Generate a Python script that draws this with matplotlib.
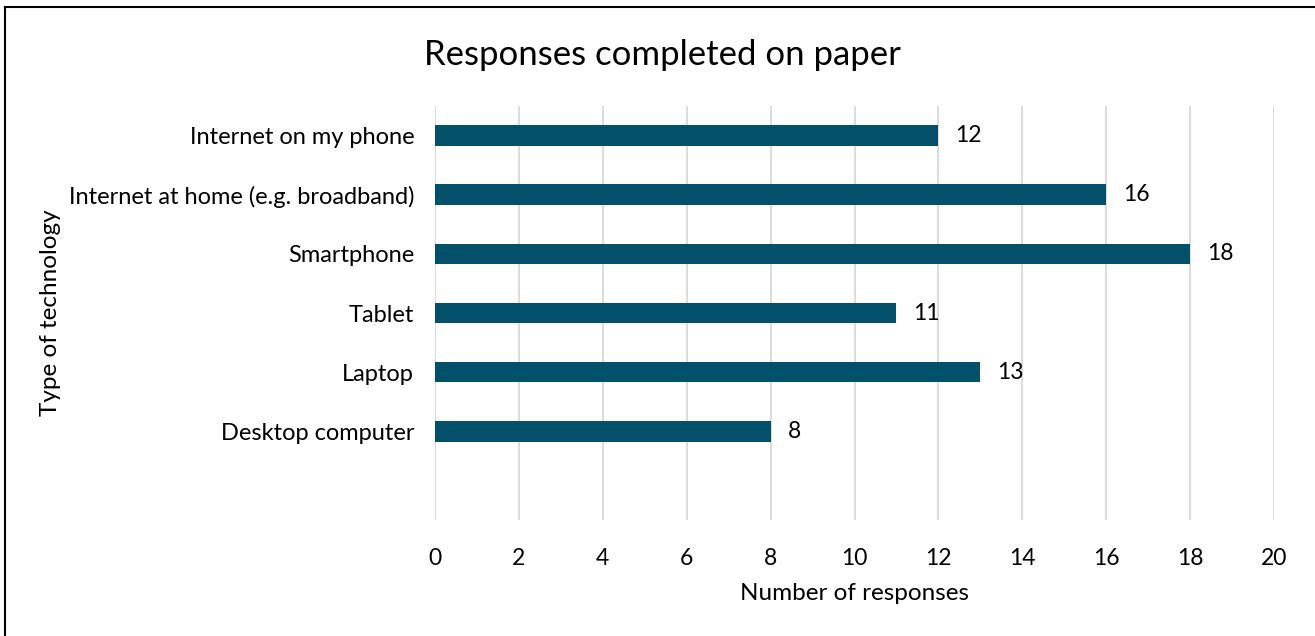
import matplotlib.pyplot as plt
from matplotlib.lines import Line2D

# Data (top to bottom as in chart)
categories = ["Internet on my phone", "Internet at home (e.g. broadband)",
              "Smartphone", "Tablet", "Laptop", "Desktop computer"]
counts = [12, 16, 18, 11, 13, 8]

bar_color = "#03506B"
grid_color = "#D9D9D9"

plt.rcParams["font.family"] = ["Lato", "DejaVu Sans"]

fig = plt.figure(figsize=(13.15, 6.36), dpi=100)
# plot area in pixels: x 435-1274, y 106-520
W, H = 1315, 636
ax = fig.add_axes([435 / W, 1 - 520 / H, (1274 - 435) / W, (520 - 106) / H])

# 7 slots, last one empty (bottom)
n = len(categories)
ypos = list(range(n))
ax.barh(ypos, counts, height=0.35, color=bar_color, zorder=3)
ax.set_ylim(n + 0.5, -0.5)
ax.set_xlim(0, 20)
ax.set_xticks(range(0, 21, 2))
ax.set_yticks(ypos)
ax.set_yticklabels(categories, fontsize=17)
ax.tick_params(axis="x", labelsize=16.5, length=0, pad=20)
ax.tick_params(axis="y", length=0, pad=15)
ax.grid(axis="x", color=grid_color, linewidth=1.3, zorder=0)
for s in ax.spines.values():
    s.set_visible(False)

for y, v in zip(ypos, counts):
    ax.text(v + 0.4, y, str(v), va="center", ha="left", fontsize=16.5)

ax.set_xlabel("Number of responses", fontsize=17.5, labelpad=10)
fig.text(51 / W, 1 - 313 / H, "Type of technology", rotation=90,
         fontsize=17.5, va="center", ha="center")
fig.text(662 / W, 1 - 55 / H, "Responses completed on paper", fontsize=25,
         ha="center", va="center")

# outer border (only left and top visible)
fig.add_artist(Line2D([4.5 / W, 4.5 / W], [0, 1 - 7 / H], color="black",
                      linewidth=1.5, transform=fig.transFigure))
fig.add_artist(Line2D([4.5 / W, 1], [1 - 7 / H, 1 - 7 / H], color="black",
                      linewidth=1.5, transform=fig.transFigure))

fig.savefig("out.png", dpi=100)
